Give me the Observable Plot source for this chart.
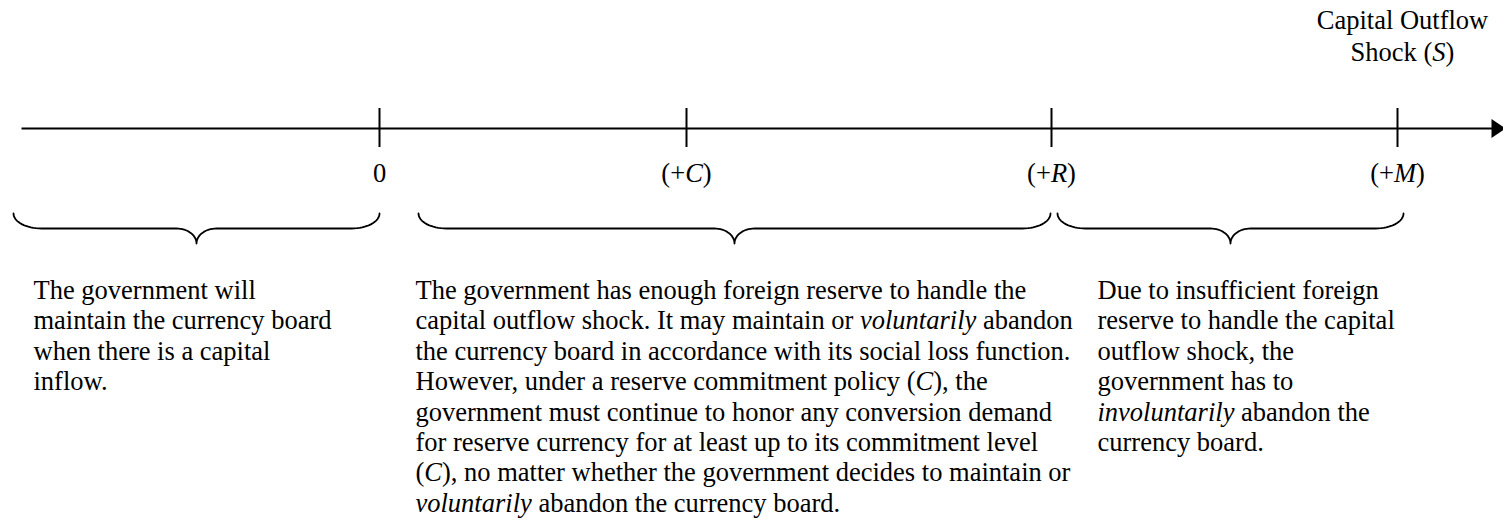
<!DOCTYPE html>
<html>
<head>
<meta charset="utf-8">
<script src="https://cdn.jsdelivr.net/npm/d3@7"></script>
<script src="https://cdn.jsdelivr.net/npm/@observablehq/plot@0.6"></script>
<style>
  body { margin: 0; background: #fff; }
  svg { display: block; }
</style>
</head>
<body>
<div id="chart"></div>
<script>
// ---------- data ----------
const tickValues = [0, 3.07, 6.72, 10.18];
const tickLabels = ["0", "(+*C*)", "(+*R*)", "(+*M*)"];
const axisExtent = [-3.58, 11.26];
const axisTitle = "Capital Outflow\nShock (*S*)";
const braceStarts = [-3.66, 0.39, 6.78];
const braceEnds = [0, 6.71, 10.24];
const regionTexts = [
  "The government will\nmaintain the currency board\nwhen there is a capital\ninflow.",
  "The government has enough foreign reserve to handle the\ncapital outflow shock. It may maintain or *voluntarily* abandon\nthe currency board in accordance with its social loss function.\nHowever, under a reserve commitment policy (*C*), the\ngovernment must continue to honor any conversion demand\nfor reserve currency for at least up to its commitment level\n(*C*), no matter whether the government decides to maintain or\n*voluntarily* abandon the currency board.",
  "Due to insufficient foreign\nreserve to handle the capital\noutflow shock, the\ngovernment has to\n*involuntarily* abandon the\ncurrency board."
];

// ---------- layout ----------
const W = 1503, H = 520;
const FONT = "'Liberation Serif', 'Times New Roman', serif";
const FS = 26.5;
const axisY = 128, tickTop = 108, tickBottom = 147, labelY = 173;
const titleX = 10.23, titleY = 34.2;
const textX = [-3.46, 0.36, 7.18], textY = 277;
const braceTop = 213, braceLine = 228, braceTip = 243;
const endR = 0.28, tipR = 0.20; // horizontal radii (x units)

// build brace outlines from each span
const bracePts = [];
braceStarts.forEach((s, k) => {
  const e = braceEnds[k], m = (s + e) / 2, n = 16;
  const pts = [];
  const dv = braceLine - braceTop, dt = braceTip - braceLine;
  for (let i = 0; i <= n; i++) { const t = i / n * Math.PI / 2; pts.push([s + endR - endR * Math.cos(t), braceTop + dv * Math.sin(t)]); }
  for (let i = 0; i <= n; i++) { const t = i / n * Math.PI / 2; pts.push([m - tipR + tipR * Math.sin(t), braceTip - dt * Math.cos(t)]); }
  for (let i = n; i >= 0; i--) { const t = i / n * Math.PI / 2; pts.push([m + tipR - tipR * Math.sin(t), braceTip - dt * Math.cos(t)]); }
  for (let i = n; i >= 0; i--) { const t = i / n * Math.PI / 2; pts.push([e - endR + endR * Math.cos(t), braceTop + dv * Math.sin(t)]); }
  pts.forEach(p => bracePts.push({x: p[0], y: p[1], b: k}));
});

const arrowHead = {
  draw(ctx) { ctx.moveTo(0, 0); ctx.lineTo(-14, -9.5); ctx.lineTo(-14, 9.5); ctx.closePath(); }
};

const chart = Plot.plot({
  width: W, height: H,
  margin: 0,
  style: {background: "#fff"},
  x: {domain: [-3.79, 11.24], range: [0, W], axis: null},
  y: {domain: [0, H], range: [0, H], axis: null},
  marks: [
    Plot.link([axisExtent], {x1: d => d[0], x2: d => d[1], y1: axisY, y2: axisY, stroke: "#000", strokeWidth: 2}),
    Plot.dot([axisExtent[1]], {x: d => d, y: axisY, symbol: arrowHead, fill: "#000", stroke: "none", r: 5}),
    Plot.ruleX(tickValues, {x: d => d, y1: tickTop, y2: tickBottom, stroke: "#000", strokeWidth: 2}),
    Plot.text(tickValues, {x: d => d, y: labelY, text: (d, i) => tickLabels[i], fontFamily: FONT, fontSize: FS, fill: "#000", lineAnchor: "middle"}),
    Plot.text([axisTitle], {x: titleX, y: titleY, text: d => d, fontFamily: FONT, fontSize: FS, fill: "#000", lineAnchor: "middle", lineHeight: 1.2}),
    Plot.line(bracePts, {x: "x", y: "y", z: "b", stroke: "#000", strokeWidth: 1.8, curve: "linear"}),
    Plot.text(regionTexts, {x: (d, i) => textX[i], y: textY, text: d => d, textAnchor: "start", lineAnchor: "top", lineHeight: 1.147, fontFamily: FONT, fontSize: FS, fill: "#000"})
  ]
});

// turn *...* runs into italic tspans (real text kept)
chart.querySelectorAll("text, tspan").forEach(el => {
  if (el.childNodes.length === 1 && el.firstChild.nodeType === 3 && el.textContent.includes("*")) {
    const parts = el.textContent.split("*");
    el.textContent = "";
    parts.forEach((p, i) => {
      if (!p) return;
      if (i % 2) {
        const t = document.createElementNS("http://www.w3.org/2000/svg", "tspan");
        t.setAttribute("font-style", "italic");
        t.textContent = p;
        el.appendChild(t);
      } else {
        el.appendChild(document.createTextNode(p));
      }
    });
  }
});

document.getElementById("chart").appendChild(chart);
</script>
</body>
</html>
